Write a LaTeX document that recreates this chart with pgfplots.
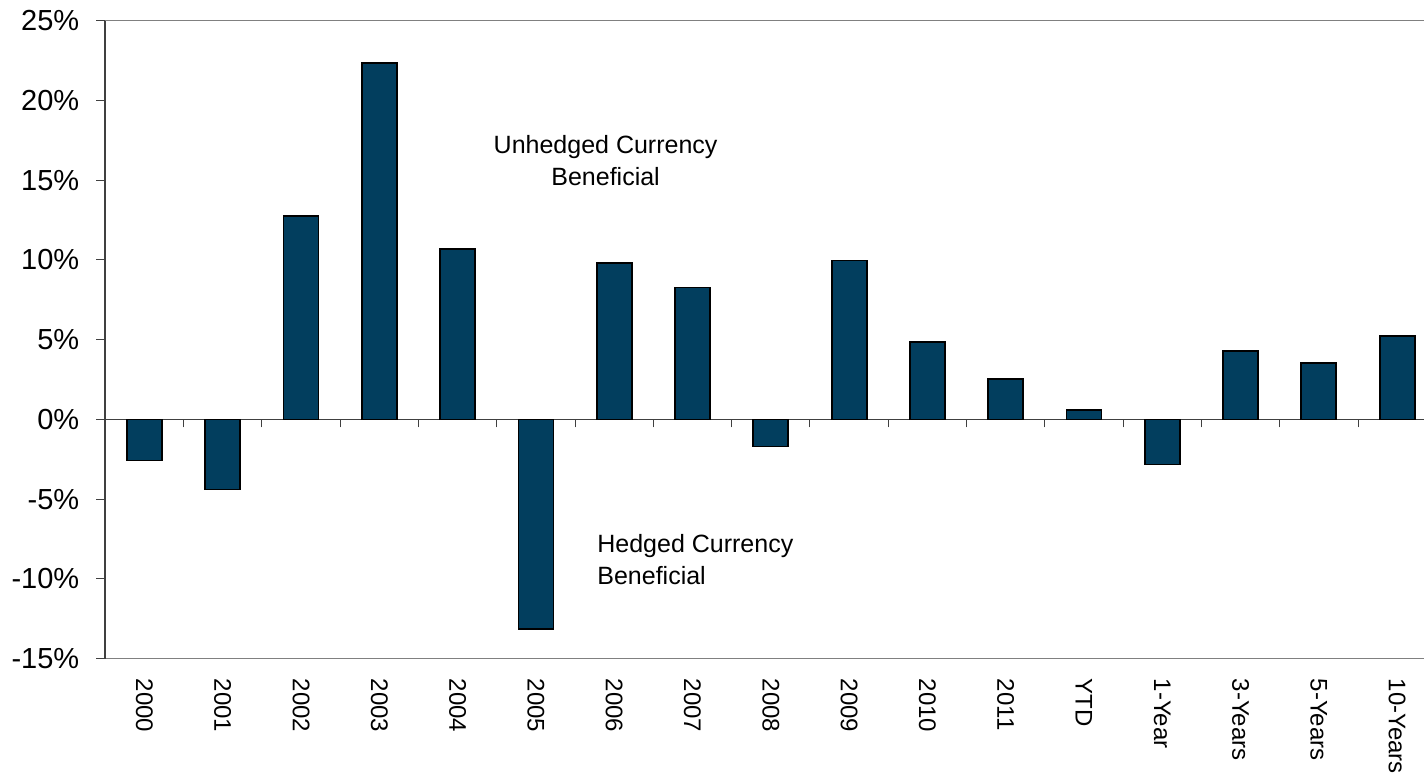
\documentclass[border=0pt]{standalone}
\usepackage{pgfplots}
\pgfplotsset{compat=1.18}
\usepackage{fontspec}
\setmainfont{Liberation Sans}
\definecolor{barblue}{RGB}{2,62,94}
\definecolor{axgrey}{RGB}{128,128,128}
\definecolor{axdark}{RGB}{64,64,64}
\begin{document}
\begin{tikzpicture}
% zero line with category separators
\begin{axis}[
  width=665.5pt, height=319pt, scale only axis,
  xmin=-0.5, xmax=16.5, ymin=-15, ymax=25,
  axis x line=middle, axis y line=none,
  x axis line style={-, draw=axdark, line width=0.6pt},
  xtick={0.5,1.5,2.5,3.5,4.5,5.5,6.5,7.5,8.5,9.5,10.5,11.5,12.5,13.5,14.5,15.5},
  xticklabels={},
  xtick align=outside,
  major tick length=4pt,
  xtick style={draw=axdark, line width=0.5pt},
]
\addplot[draw=none] coordinates {(0,0)};
\end{axis}
\begin{axis}[
  name=main,
  width=665.5pt, height=319pt, scale only axis,
  xmin=-0.5, xmax=16.5, ymin=-15, ymax=25,
  separate axis lines,
  x axis line style={draw=axgrey, line width=0.8pt},
  y axis line style={draw=axdark, line width=0.8pt},
  ytick={-15,-10,-5,0,5,10,15,20,25},
  yticklabels={-15\%,-10\%,-5\%,0\%,5\%,10\%,15\%,20\%,25\%},
  ytick pos=left,
  ytick align=outside,
  ytick style={draw=axdark, line width=0.5pt},
  yticklabel style={xshift=-5pt, font=\fontsize{14.5}{16}\selectfont, text=black},
  major tick length=4.5pt,
  xtick={0,1,2,3,4,5,6,7,8,9,10,11,12,13,14,15,16},
  xticklabels={2000,2001,2002,2003,2004,2005,2006,2007,2008,2009,2010,2011,YTD,1-Year,3-Years,5-Years,10-Years},
  xtick style={draw=none},
  xticklabel style={yshift=-6.5pt, rotate=-90, anchor=west, font=\fontsize{12}{14}\selectfont, text=black},
  clip=false,
]
\addplot[ybar, bar width=17.5pt, fill=barblue, draw=black, line width=0.9pt] coordinates {
(0,-2.57) (1,-4.39) (2,12.74) (3,22.37) (4,10.69) (5,-13.14) (6,9.83) (7,8.27) (8,-1.70)
(9,9.96) (10,4.85) (11,2.55) (12,0.61) (13,-2.83) (14,4.27) (15,3.52) (16,5.21)};
\node[align=center, font=\fontsize{12.5}{16}\selectfont] at (axis cs:5.89,16.2) {Unhedged Currency\\Beneficial};
\node[align=left, anchor=west, inner sep=0pt, font=\fontsize{12.5}{16}\selectfont] at (axis cs:5.78,-8.8) {Hedged Currency\\Beneficial};
\end{axis}
\pgfresetboundingbox
\path ([shift={(-52.65pt,-59.65pt)}]main.south west) rectangle ([shift={(659.35pt,10.35pt)}]main.north west);
\end{tikzpicture}
\end{document}
